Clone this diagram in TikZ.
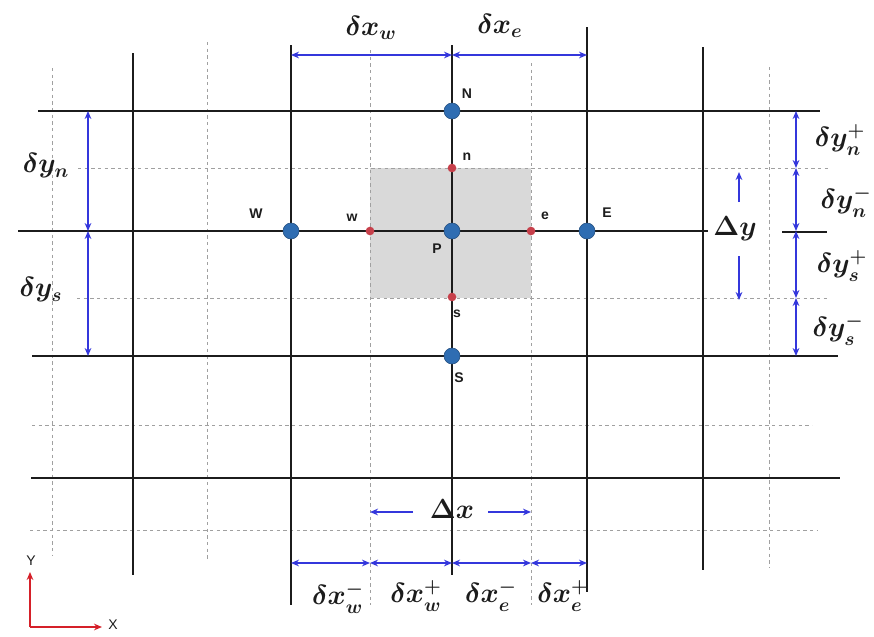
\documentclass[tikz,border=0pt]{standalone}
\usepackage{fontspec}
\setmainfont{Liberation Sans}
\usepackage{tikz}
\usetikzlibrary{arrows.meta,calc}
\definecolor{MeshInk}{HTML}{1C1C1C}
\definecolor{MeshDash}{HTML}{A0A0A0}
\definecolor{MeshCell}{HTML}{D9D9D9}
\definecolor{MeshBlue}{HTML}{3437DC}
\definecolor{MeshNode}{HTML}{2F6DB2}
\definecolor{MeshFace}{HTML}{C7404B}
\definecolor{MeshAxis}{HTML}{D52029}

\begin{document}
\begin{tikzpicture}[x=0.75pt,y=-0.75pt,
    mainline/.style={MeshInk,line width=1.8pt},
    gridline/.style={MeshDash,line width=0.6pt,dash pattern=on 2.5pt off 2.5pt},
    dimarrow/.style={MeshBlue,line width=1.1pt,{Stealth[length=6pt,width=5pt]}-{Stealth[length=6pt,width=5pt]}},
    halfarrow/.style={MeshBlue,line width=1.1pt,-{Stealth[length=6pt,width=5pt]}},
    nodedot/.style={circle,fill=MeshNode,draw=MeshNode!70!black,line width=0.4pt,inner sep=0pt,minimum size=12pt},
    facedot/.style={circle,fill=MeshFace,inner sep=0pt,minimum size=6.5pt},
    ptlabel/.style={text=MeshInk,font=\bfseries\fontsize{10.5}{12}\selectfont,inner sep=0pt},
    dimlabel/.style={text=MeshInk,font=\boldmath\fontsize{20}{24}\selectfont,inner sep=0pt}]
  \useasboundingbox (0,0) rectangle (874,636);

  % control volume around P
  \fill[MeshCell] (370,168) rectangle (531,298);

  % dashed grid (faces)
  \draw[gridline] (52,68) -- (52,555);
  \draw[gridline] (207,42) -- (207,560);
  \draw[gridline] (370,50) -- (370,605);
  \draw[gridline] (531,63) -- (531,605);
  \draw[gridline] (769,67) -- (769,568);
  \draw[gridline] (78,168) -- (830,168);
  \draw[gridline] (77,298) -- (830,298);
  \draw[gridline] (32,425) -- (812,425);
  \draw[gridline] (30,530) -- (818,530);

  % solid grid (nodes)
  \draw[mainline] (133,53) -- (133,575);
  \draw[mainline] (291,45) -- (291,605);
  \draw[mainline] (452,45) -- (452,575);
  \draw[mainline] (587,27) -- (587,592);
  \draw[mainline] (703,47) -- (703,570);
  \draw[mainline] (38,111) -- (820,111);
  \draw[mainline] (18,231) -- (708,231);
  \draw[mainline] (782,232) -- (827,232);
  \draw[mainline] (32,356) -- (838,356);
  \draw[mainline] (31,478) -- (840,478);

  % nodes and faces
  \node[nodedot] (N) at (452,111) {};
  \node[nodedot] (W) at (291,231) {};
  \node[nodedot] (P) at (452,231) {};
  \node[nodedot] (E) at (587,231) {};
  \node[nodedot] (S) at (452,356) {};
  \node[facedot] (n) at (452,168) {};
  \node[facedot] (w) at (370,231) {};
  \node[facedot] (e) at (531,231) {};
  \node[facedot] (s) at (452,297) {};

  \node[ptlabel] (labN) at (467,94) {N};
  \node[ptlabel] (labn) at (467,157) {n};
  \node[ptlabel] (labW) at (256,214) {W};
  \node[ptlabel] (labw) at (352,218) {w};
  \node[ptlabel] (labP) at (437,249) {P};
  \node[ptlabel] (labe) at (545,216) {e};
  \node[ptlabel] (labE) at (607,213) {E};
  \node[ptlabel] (labs) at (457,314) {s};
  \node[ptlabel] (labS) at (459,378) {S};

  % top spacings
  \coordinate (tW) at (291,55);
  \coordinate (tP) at (452,55);
  \coordinate (tE) at (587,55);
  \draw[dimarrow] (tW) -- (tP);
  \draw[dimarrow] (tP) -- (tE);
  \node[dimlabel] (dxw) at (371,28) {$\delta x_{w}$};
  \node[dimlabel] (dxe) at (500,26) {$\delta x_{e}$};

  % bottom spacings
  \coordinate (bW) at (291,563);
  \coordinate (bw) at (370,563);
  \coordinate (bP) at (452,563);
  \coordinate (be) at (531,563);
  \coordinate (bE) at (587,563);
  \draw[dimarrow] (bW) -- (bw);
  \draw[dimarrow] (bw) -- (bP);
  \draw[dimarrow] (bP) -- (be);
  \draw[dimarrow] (be) -- (bE);
  \node[dimlabel] (dxwm) at (338,598) {$\delta x_{w}^{-}$};
  \node[dimlabel] (dxwp) at (416,596) {$\delta x_{w}^{+}$};
  \node[dimlabel] (dxem) at (491,596) {$\delta x_{e}^{-}$};
  \node[dimlabel] (dxep) at (563,596) {$\delta x_{e}^{+}$};

  % cell width
  \node[dimlabel] (Dx) at (452,509) {$\Delta x$};
  \coordinate (Dxl) at (370,512);
  \coordinate (Dxr) at (531,512);
  \coordinate (Dxlt) at (413,512);
  \coordinate (Dxrt) at (488,512);
  \draw[halfarrow] (Dxlt) -- (Dxl);
  \draw[halfarrow] (Dxrt) -- (Dxr);

  % left spacings
  \coordinate (lN) at (88,111);
  \coordinate (lP) at (88,231);
  \coordinate (lS) at (88,356);
  \draw[dimarrow] (lN) -- (lP);
  \draw[dimarrow] (lP) -- (lS);
  \node[dimlabel] (dyn) at (46,166) {$\delta y_{n}$};
  \node[dimlabel] (dys) at (41,290) {$\delta y_{s}$};

  % right spacings
  \coordinate (rN) at (796,111);
  \coordinate (rn) at (796,168);
  \coordinate (rP) at (796,231);
  \coordinate (rs) at (796,298);
  \coordinate (rS) at (796,356);
  \draw[dimarrow] (rN) -- (rn);
  \draw[dimarrow] (rn) -- (rP);
  \draw[dimarrow] (rP) -- (rs);
  \draw[dimarrow] (rs) -- (rS);
  \node[dimlabel] (dynp) at (840,140) {$\delta y_{n}^{+}$};
  \node[dimlabel] (dynm) at (846,202) {$\delta y_{n}^{-}$};
  \node[dimlabel] (dysp) at (842,266) {$\delta y_{s}^{+}$};
  \node[dimlabel] (dysm) at (838,330) {$\delta y_{s}^{-}$};

  % cell height
  \node[dimlabel] (Dy) at (735,229) {$\Delta y$};
  \coordinate (Dyt) at (739,172);
  \coordinate (Dyb) at (739,300);
  \coordinate (Dytt) at (739,202);
  \coordinate (Dybt) at (739,256);
  \draw[halfarrow] (Dytt) -- (Dyt);
  \draw[halfarrow] (Dybt) -- (Dyb);

  % axes
  \coordinate (O) at (30,627);
  \coordinate (Ytip) at (30,572);
  \coordinate (Xtip) at (102,627);
  \draw[MeshAxis,line width=1.2pt,-{Stealth[length=6pt,width=5pt]}] (O) -- (Ytip);
  \draw[MeshAxis,line width=1.2pt,-{Stealth[length=6pt,width=5pt]}] (O) -- (Xtip);
  \node[text=MeshInk,font=\fontsize{10.5}{12}\selectfont] (labY) at (31,561) {Y};
  \node[text=MeshInk,font=\fontsize{10.5}{12}\selectfont] (labX) at (113,625) {X};
\end{tikzpicture}
\end{document}
